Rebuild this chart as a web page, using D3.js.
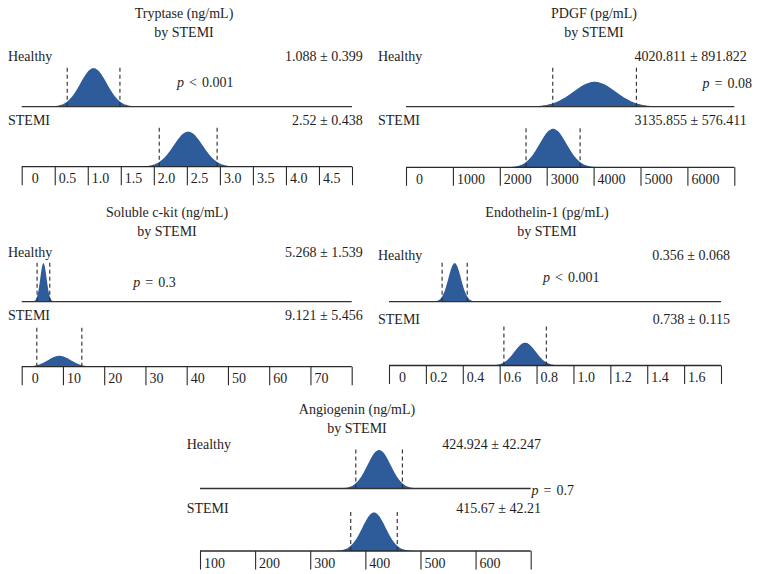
<!DOCTYPE html>
<html>
<head>
<meta charset="utf-8">
<script src="https://cdn.jsdelivr.net/npm/d3@7"></script>
<style>
  html, body { margin: 0; padding: 0; background: #fff; }
  svg { display: block; }
  text { font-family: "Liberation Serif", "Times New Roman", serif; font-size: 14px; fill: #1e1e1e; }
</style>
</head>
<body>
<svg id="chart" width="760" height="574"></svg>
<script>
// ---------------- DATA ----------------
const markers      = ["Tryptase (ng/mL)", "PDGF (pg/mL)", "Soluble c-kit (ng/mL)", "Endothelin-1 (pg/mL)", "Angiogenin (ng/mL)"];
const subtitle     = "by STEMI";
const groups       = ["Healthy", "STEMI"];
const healthyMean  = [1.088, 4020.811, 5.268, 0.356, 424.924];
const healthySD    = [0.399, 891.822, 1.539, 0.068, 42.247];
const stemiMean    = [2.52, 3135.855, 9.121, 0.738, 415.67];
const stemiSD      = [0.438, 576.411, 5.456, 0.115, 42.21];
const healthyLabel = ["1.088 ± 0.399", "4020.811 ± 891.822", "5.268 ± 1.539", "0.356 ± 0.068", "424.924 ± 42.247"];
const stemiLabel   = ["2.52 ± 0.438", "3135.855 ± 576.411", "9.121 ± 5.456", "0.738 ± 0.115", "415.67 ± 42.21"];
const pOperator    = ["<", "=", "=", "<", "="];
const pValue       = ["0.001", "0.08", "0.3", "0.001", "0.7"];
const axisDomains  = [[0, 5], [0, 7000], [0, 80], [0, 1.8], [100, 700]];
const tickValues   = [
  [0, 0.5, 1, 1.5, 2, 2.5, 3, 3.5, 4, 4.5, 5],
  [0, 1000, 2000, 3000, 4000, 5000, 6000, 7000],
  [0, 10, 20, 30, 40, 50, 60, 70, 80],
  [0, 0.2, 0.4, 0.6, 0.8, 1.0, 1.2, 1.4, 1.6, 1.8],
  [100, 200, 300, 400, 500, 600, 700]
];
const tickLabels   = [
  ["0", "0.5", "1.0", "1.5", "2.0", "2.5", "3.0", "3.5", "4.0", "4.5"],
  ["0", "1000", "2000", "3000", "4000", "5000", "6000"],
  ["0", "10", "20", "30", "40", "50", "60", "70"],
  ["0", "0.2", "0.4", "0.6", "0.8", "1.0", "1.2", "1.4", "1.6"],
  ["100", "200", "300", "400", "500", "600"]
];

// ---------------- LAYOUT ----------------
const layout = [
  { x0: 21.7, x1: 352,   hY: 106.7, aY: 166.7, tX: 184, tY: 18.3,  lX: 8,     hT: 61,    sT: 125,   mR: 362.7, pX: 177,   pY: 87,    pA: "start" },
  { x0: 406,  x1: 734.3, hY: 106.7, aY: 167.3, tX: 594, tY: 18.3,  lX: 378,   hT: 61,    sT: 125,   mR: 746.7, pX: 752,   pY: 88,    pA: "end" },
  { x0: 21.7, x1: 351.7, hY: 301.7, aY: 366.7, tX: 167, tY: 216.7, lX: 8,     hT: 256.7, sT: 320,   mR: 362.7, pX: 133.3, pY: 286.7, pA: "start" },
  { x0: 389,  x1: 721,   hY: 301.7, aY: 365.5, tX: 547, tY: 216.7, lX: 378,   hT: 259.5, sT: 324,   mR: 730,   pX: 543,   pY: 282.3, pA: "start" },
  { x0: 200,  x1: 530.7, hY: 488.5, aY: 551,   tX: 357, tY: 414.3, lX: 186.7, hT: 448.5, sT: 513,   mR: 541,   pX: 531.5, pY: 495,   pA: "start" }
];
const fillColor = "#2e5b9a";
const lineColor = "#2a2a2a";
const peakH = 38.5;      // tallest curve height in a panel
const dashH = 39;        // dashed SD marker height
const tickLen = 18.5;

const svg = d3.select("#chart");

function normal(x, m, s) {
  return Math.exp(-0.5 * ((x - m) / s) ** 2) / s;
}

markers.forEach((name, i) => {
  const L = layout[i];
  const g = svg.append("g");
  const x = d3.scaleLinear().domain(axisDomains[i]).range([L.x0, L.x1]);

  const dists = [
    { m: healthyMean[i], s: healthySD[i], base: L.hY, label: healthyLabel[i], tY: L.hT, name: groups[0] },
    { m: stemiMean[i],   s: stemiSD[i],   base: L.aY, label: stemiLabel[i],   tY: L.sT, name: groups[1] }
  ];
  const maxDens = d3.max(dists, d => normal(d.m, d.m, d.s / 2));
  const y = d3.scaleLinear().domain([0, maxDens]).range([0, peakH]);

  // Titles
  g.append("text").attr("x", L.tX).attr("y", L.tY).attr("text-anchor", "middle").text(name);
  g.append("text").attr("x", L.tX).attr("y", L.tY + 19).attr("text-anchor", "middle").text(subtitle);

  dists.forEach(d => {
    const [d0, d1] = axisDomains[i];
    const lo = Math.max(d0, d.m - 2.2 * d.s), hi = Math.min(d1, d.m + 2.2 * d.s);
    const xs = d3.range(0, 201).map(k => lo + (hi - lo) * k / 200);
    const area = d3.area()
      .x(v => x(v))
      .y0(d.base)
      .y1(v => d.base - y(normal(v, d.m, d.s / 2)))
      .curve(d3.curveBasis);
    g.append("path").attr("d", area(xs)).attr("fill", fillColor);

    [d.m - d.s, d.m + d.s].forEach(v => {
      g.append("line")
        .attr("x1", x(v)).attr("x2", x(v))
        .attr("y1", d.base - dashH).attr("y2", d.base)
        .attr("stroke", lineColor).attr("stroke-width", 1.1)
        .attr("stroke-dasharray", "4,3");
    });

    g.append("text").attr("x", L.lX).attr("y", d.tY).text(d.name);
    g.append("text").attr("x", L.mR).attr("y", d.tY).attr("text-anchor", "end").text(d.label);
  });

  // Healthy baseline
  g.append("line")
    .attr("x1", L.x0).attr("x2", L.x1)
    .attr("y1", L.hY).attr("y2", L.hY)
    .attr("stroke", "#333").attr("stroke-width", 1.3);

  // Axis: top line with boxed ticks
  const axis = d3.axisBottom(x).tickValues(tickValues[i]).tickSize(tickLen).tickFormat("");
  const ag = g.append("g").attr("transform", `translate(0,${L.aY})`).call(axis);
  ag.select(".domain").attr("d", `M${L.x0},0H${L.x1}`).attr("stroke", lineColor).attr("stroke-width", 1.3);
  ag.selectAll(".tick line").attr("stroke", lineColor).attr("stroke-width", 1.1);

  tickLabels[i].forEach((lab, k) => {
    const v = tickValues[i][k];
    g.append("text")
      .attr("x", x(v) + (lab === "0" ? 10 : 4))
      .attr("y", L.aY + 16.5)
      .text(lab);
  });

  // p-value
  const pt = g.append("text").attr("x", L.pX).attr("y", L.pY).attr("text-anchor", L.pA)
    .attr("word-spacing", "1.5px");
  pt.append("tspan").attr("font-style", "italic").text("p");
  pt.append("tspan").text(" " + pOperator[i] + " " + pValue[i]);
});
</script>
</body>
</html>
